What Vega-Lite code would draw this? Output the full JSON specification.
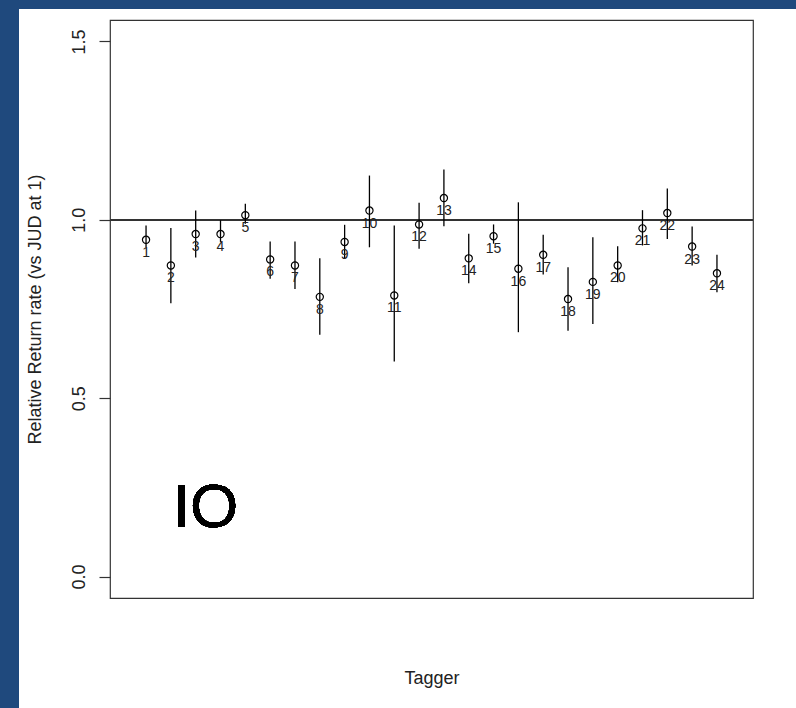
{
  "$schema": "https://vega.github.io/schema/vega-lite/v6.json",
  "width": 643,
  "height": 578,
  "autosize": {"type": "none"},
  "padding": {"left": 110, "top": 20, "right": 43, "bottom": 110},
  "background": "white",
  "config": {
    "view": {"stroke": "#333333", "strokeWidth": 1.2},
    "font": "Liberation Sans"
  },
  "data": {
    "values": [
      {"tagger": 1, "rate": 0.944, "lo": 0.923, "hi": 0.984},
      {"tagger": 2, "rate": 0.872, "lo": 0.766, "hi": 0.977},
      {"tagger": 3, "rate": 0.960, "lo": 0.894, "hi": 1.026},
      {"tagger": 4, "rate": 0.960, "lo": 0.938, "hi": 0.999},
      {"tagger": 5, "rate": 1.013, "lo": 0.989, "hi": 1.045},
      {"tagger": 6, "rate": 0.889, "lo": 0.835, "hi": 0.939},
      {"tagger": 7, "rate": 0.872, "lo": 0.806, "hi": 0.939},
      {"tagger": 8, "rate": 0.784, "lo": 0.678, "hi": 0.892},
      {"tagger": 9, "rate": 0.938, "lo": 0.891, "hi": 0.986},
      {"tagger": 10, "rate": 1.026, "lo": 0.923, "hi": 1.124},
      {"tagger": 11, "rate": 0.788, "lo": 0.603, "hi": 0.984},
      {"tagger": 12, "rate": 0.987, "lo": 0.919, "hi": 1.048},
      {"tagger": 13, "rate": 1.061, "lo": 0.982, "hi": 1.141},
      {"tagger": 14, "rate": 0.892, "lo": 0.822, "hi": 0.961},
      {"tagger": 15, "rate": 0.954, "lo": 0.933, "hi": 0.987},
      {"tagger": 16, "rate": 0.863, "lo": 0.685, "hi": 1.049},
      {"tagger": 17, "rate": 0.902, "lo": 0.847, "hi": 0.958},
      {"tagger": 18, "rate": 0.778, "lo": 0.689, "hi": 0.867},
      {"tagger": 19, "rate": 0.826, "lo": 0.708, "hi": 0.951},
      {"tagger": 20, "rate": 0.872, "lo": 0.825, "hi": 0.926},
      {"tagger": 21, "rate": 0.976, "lo": 0.928, "hi": 1.027},
      {"tagger": 22, "rate": 1.019, "lo": 0.946, "hi": 1.088},
      {"tagger": 23, "rate": 0.925, "lo": 0.872, "hi": 0.981},
      {"tagger": 24, "rate": 0.850, "lo": 0.797, "hi": 0.902}
    ]
  },
  "layer": [
    {
      "mark": {"type": "rect", "color": "#1F497D", "clip": false},
      "encoding": {
        "x": {"datum": -12, "type": "quantitative", "scale": {"domain": [-0.452, 25.452]}},
        "x2": {"datum": -4.121},
        "y": {"datum": 2.5, "type": "quantitative", "scale": {"domain": [-0.06, 1.56]}},
        "y2": {"datum": -1}
      }
    },
    {
      "mark": {"type": "rect", "color": "#1F497D", "clip": false},
      "encoding": {
        "x": {"datum": -12, "type": "quantitative"},
        "x2": {"datum": 30},
        "y": {"datum": 2.5, "type": "quantitative"},
        "y2": {"datum": 1.591}
      }
    },
    {
      "mark": {"type": "rule", "color": "#333333", "strokeWidth": 1.5},
      "encoding": {"y": {"datum": 1, "type": "quantitative"}}
    },
    {
      "mark": {"type": "rule", "color": "black", "strokeWidth": 1.3},
      "encoding": {
        "x": {
          "field": "tagger",
          "type": "quantitative",
          "scale": {"domain": [-0.452, 25.452], "nice": false, "zero": false},
          "axis": {
            "title": "Tagger",
            "labels": false,
            "ticks": false,
            "domain": false,
            "grid": false,
            "titleFont": "Liberation Sans",
            "titleFontSize": 18,
            "titleFontWeight": "normal",
            "titleColor": "#222222",
            "titleX": 321.5,
            "titleY": 85,
            "titleBaseline": "alphabetic",
            "titleAlign": "center"
          }
        },
        "y": {
          "field": "lo",
          "type": "quantitative",
          "scale": {"domain": [-0.06, 1.56], "nice": false, "zero": false},
          "axis": {
            "title": "Relative Return rate (vs JUD at 1)",
            "values": [0, 0.5, 1, 1.5],
            "format": ".1f",
            "grid": false,
            "domain": false,
            "tickColor": "#333333",
            "tickSize": 11,
            "tickWidth": 1.2,
            "labelAngle": 270,
            "labelAlign": "center",
            "labelBaseline": "alphabetic",
            "labelPadding": 15,
            "labelFont": "Liberation Sans",
            "labelFontSize": 18,
            "labelColor": "#222222",
            "titleFont": "Liberation Sans",
            "titleFontSize": 18,
            "titleFontWeight": "normal",
            "titleColor": "#222222",
            "titleAngle": 270,
            "titleX": -70,
            "titleY": 289,
            "titleAlign": "center",
            "titleBaseline": "alphabetic"
          }
        },
        "y2": {"field": "hi"}
      }
    },
    {
      "mark": {"type": "point", "shape": "circle", "filled": false, "color": "black", "strokeWidth": 1.2, "size": 52, "opacity": 1},
      "encoding": {
        "x": {"field": "tagger", "type": "quantitative"},
        "y": {"field": "rate", "type": "quantitative"}
      }
    },
    {
      "mark": {"type": "text", "fontSize": 14, "dy": 17, "baseline": "alphabetic", "align": "center", "color": "#222222", "font": "Liberation Sans"},
      "encoding": {
        "x": {"field": "tagger", "type": "quantitative"},
        "y": {"field": "rate", "type": "quantitative"},
        "text": {"field": "tagger", "type": "nominal"}
      }
    },
    {
      "mark": {"type": "text", "fontSize": 62, "baseline": "alphabetic", "align": "center", "color": "black", "font": "Liberation Sans"},
      "encoding": {
        "x": {"datum": 3.395, "type": "quantitative"},
        "y": {"datum": 0.139, "type": "quantitative"},
        "text": {"value": "IO"}
      }
    }
  ]
}
